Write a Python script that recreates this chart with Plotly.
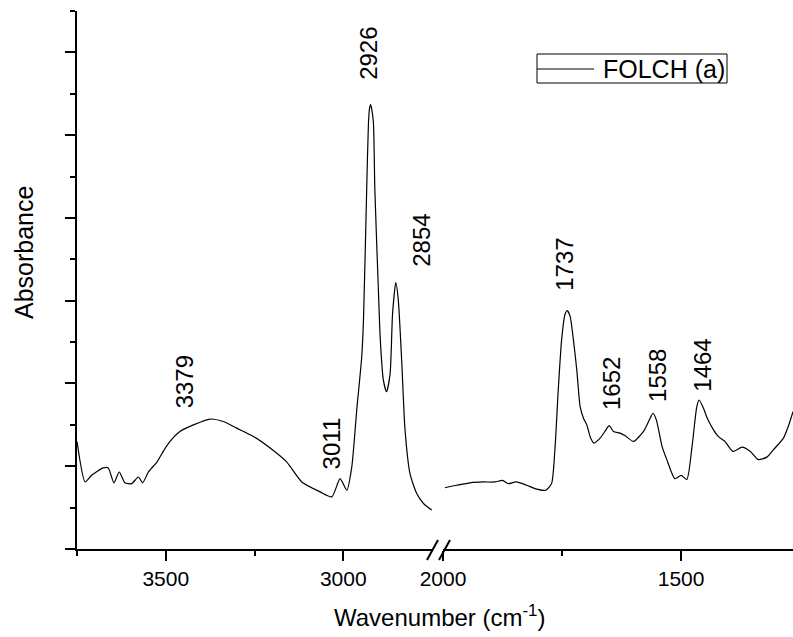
import plotly.graph_objects as go

# Left segment (high wavenumber) data
wn_left = [3750, 3727, 3709, 3676, 3662, 3646, 3631, 3615, 3596, 3577, 3565, 3549, 3525, 3507,
           3488, 3460, 3422, 3375, 3338, 3300, 3253, 3206, 3159, 3117, 3065, 3032, 3009, 2990,
           2976, 2962, 2948, 2943, 2934, 2929, 2926, 2923, 2920, 2915, 2911, 2901, 2896, 2887,
           2878, 2868, 2861, 2852, 2845, 2835, 2826, 2812, 2793, 2774, 2751]
abs_left = [0.130, 0.081, 0.089, 0.098, 0.098, 0.080, 0.093, 0.080, 0.079, 0.087, 0.080, 0.093,
            0.105, 0.118, 0.130, 0.142, 0.150, 0.157, 0.154, 0.146, 0.136, 0.122, 0.105, 0.081,
            0.069, 0.063, 0.085, 0.071, 0.099, 0.168, 0.232, 0.277, 0.434, 0.515, 0.532, 0.537,
            0.532, 0.515, 0.434, 0.313, 0.256, 0.204, 0.190, 0.212, 0.285, 0.322, 0.301, 0.224,
            0.144, 0.091, 0.067, 0.055, 0.047]

# Right segment (fingerprint) data
wn_right = [1996, 1971, 1943, 1915, 1891, 1875, 1863, 1847, 1824, 1807, 1784, 1772, 1765, 1758,
            1751, 1744, 1739, 1733, 1726, 1719, 1712, 1705, 1698, 1690, 1683, 1670, 1660, 1651,
            1642, 1628, 1618, 1600, 1579, 1565, 1559, 1552, 1540, 1530, 1513, 1500, 1488, 1477,
            1467, 1462, 1453, 1445, 1432, 1422, 1408, 1391, 1372, 1355, 1338, 1320, 1306, 1285,
            1275, 1265]
abs_right = [0.074, 0.077, 0.080, 0.081, 0.081, 0.083, 0.079, 0.081, 0.077, 0.073, 0.071, 0.079,
             0.120, 0.192, 0.252, 0.283, 0.288, 0.281, 0.252, 0.216, 0.172, 0.158, 0.150, 0.134,
             0.128, 0.134, 0.142, 0.149, 0.142, 0.140, 0.137, 0.130, 0.142, 0.158, 0.164, 0.156,
             0.124, 0.108, 0.085, 0.089, 0.084, 0.124, 0.172, 0.180, 0.170, 0.158, 0.144, 0.136,
             0.130, 0.118, 0.123, 0.118, 0.108, 0.111, 0.120, 0.134, 0.148, 0.166]

# Peak labels: text, x position, y (bottom of label), axis
peak_labels = ["3379", "3011", "2926", "2854", "1737", "1652", "1558", "1464"]
peak_x = [3446, 3034, 2927, 2778, 1744, 1645, 1550, 1454]
peak_y = [0.168, 0.094, 0.564, 0.338, 0.310, 0.165, 0.175, 0.187]
peak_axis = ["x", "x", "x", "x", "x2", "x2", "x2", "x2"]

series_name = "FOLCH (a)"
x_title = "Wavenumber (cm<sup>-1</sup>)"
y_title = "Absorbance"

FONT = "Liberation Sans, Arial, sans-serif"
W, H = 793, 637
ML, MR, MT, MB = 77, 0, 11, 88
PW = W - ML - MR
PH = H - MT - MB


def px(xp):
    return (xp - ML) / PW


def py(yp):
    return (H - MB - yp) / PH


fig = go.Figure()
fig.add_trace(go.Scatter(x=wn_left, y=abs_left, mode="lines", xaxis="x", yaxis="y",
                         line=dict(color="black", width=1.2, shape="spline", smoothing=0.6),
                         name=series_name, showlegend=False))
fig.add_trace(go.Scatter(x=wn_right, y=abs_right, mode="lines", xaxis="x2", yaxis="y",
                         line=dict(color="black", width=1.2, shape="spline", smoothing=0.6),
                         name=series_name, showlegend=False))

annotations = []
for t, xv, yv, ax in zip(peak_labels, peak_x, peak_y, peak_axis):
    annotations.append(dict(text=t, x=xv, y=yv, xref=ax, yref="y", showarrow=False,
                            textangle=-90, xanchor="center", yanchor="bottom",
                            font=dict(family=FONT, size=24, color="black")))

# manual legend
annotations.append(dict(text=series_name, x=px(601), y=py(69), xref="paper", yref="paper",
                        showarrow=False, xanchor="left", yanchor="middle",
                        font=dict(family=FONT, size=25, color="black")))
# axis titles
annotations.append(dict(text=x_title, x=px(440), y=py(616), xref="paper", yref="paper",
                        showarrow=False, xanchor="center", yanchor="middle",
                        font=dict(family=FONT, size=24, color="black")))
annotations.append(dict(text=y_title, x=px(24), y=py(252), xref="paper", yref="paper",
                        showarrow=False, xanchor="center", yanchor="middle", textangle=-90,
                        font=dict(family=FONT, size=25, color="black")))

shapes = [
    dict(type="rect", xref="paper", yref="paper", x0=px(537), x1=px(727), y0=py(54), y1=py(83),
         line=dict(color="black", width=1)),
    dict(type="line", xref="paper", yref="paper", x0=px(537), x1=px(594), y0=py(69), y1=py(69),
         line=dict(color="black", width=1)),
    # axis break marks
    dict(type="line", xref="paper", yref="paper", x0=px(427), x1=px(438), y0=py(560), y1=py(540),
         line=dict(color="black", width=2)),
    dict(type="line", xref="paper", yref="paper", x0=px(439), x1=px(450), y0=py(560), y1=py(540),
         line=dict(color="black", width=2)),
]

tickfont = dict(family=FONT, size=21, color="black")
common_x = dict(showline=True, linecolor="black", linewidth=2, ticks="outside", ticklen=10,
                tickwidth=2, tickcolor="black", showgrid=False, zeroline=False,
                tickfont=tickfont, anchor="y", automargin=False)

fig.update_layout(
    width=W, height=H,
    margin=dict(l=ML, r=MR, t=MT, b=MB, autoexpand=False),
    paper_bgcolor="white", plot_bgcolor="white",
    showlegend=False,
    xaxis=dict(domain=[0, px(432)], range=[3750, 2750], tickvals=[3500, 3000],
               minor=dict(tickvals=[3750, 3250], ticks="outside", ticklen=5, tickwidth=2,
                          tickcolor="black"),
               **common_x),
    xaxis2=dict(domain=[px(443), 1], range=[2000, 1265], tickvals=[2000, 1500],
                minor=dict(tickvals=[1750], ticks="outside", ticklen=5, tickwidth=2,
                           tickcolor="black"),
                **common_x),
    yaxis=dict(domain=[0, 1], range=[0, 0.65], showline=True, linecolor="black", linewidth=2,
               ticks="outside", ticklen=10, tickwidth=2, tickcolor="black", dtick=0.1, tick0=0,
               showticklabels=False, showgrid=False, zeroline=False, automargin=False,
               minor=dict(dtick=0.05, ticks="outside", ticklen=5, tickwidth=2,
                          tickcolor="black")),
    annotations=annotations,
    shapes=shapes,
)

fig.write_html("out.html", config={"displayModeBar": False},
               post_script="document.body.style.margin='0px';")
